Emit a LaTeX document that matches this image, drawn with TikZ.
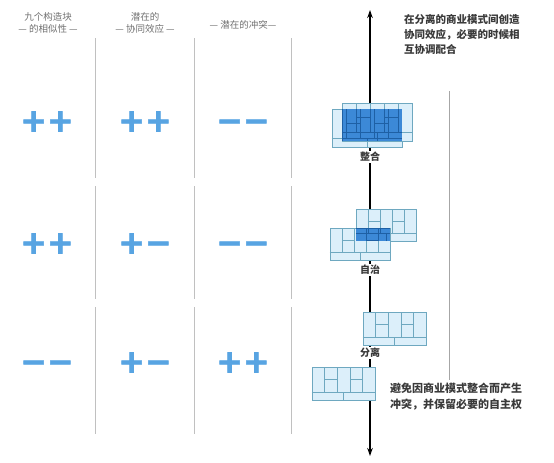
\documentclass[tikz,border=0pt]{standalone}
\usepackage{fontspec}
\setmainfont{Liberation Sans}
\newfontfamily\cjk{Noto Sans CJK SC}
\newfontfamily\signfont[FakeBold=2]{DejaVu Sans Bold}
\usepackage{xcolor}
\usepackage{tikz}
\usetikzlibrary{arrows.meta,positioning,calc}

\definecolor{signblue}{RGB}{88,164,226}
\definecolor{bmcfill}{RGB}{220,239,250}
\definecolor{bmcedge}{RGB}{110,168,192}
\definecolor{bmcdark}{RGB}{70,147,220}
\definecolor{headgray}{RGB}{112,112,112}
\definecolor{colgray}{RGB}{192,192,192}
\definecolor{txtdark}{RGB}{58,58,58}

\newcommand{\bmcgrid}[1]{%
\draw[bmcedge,line width=0.6pt] let \p1=(#1.south west),\p2=(#1.north east) in
  (\x1,{\y1+.24*(\y2-\y1)}) -- (\x2,{\y1+.24*(\y2-\y1)})
  ({\x1+.2*(\x2-\x1)},{\y1+.24*(\y2-\y1)}) -- ({\x1+.2*(\x2-\x1)},\y2)
  ({\x1+.4*(\x2-\x1)},{\y1+.24*(\y2-\y1)}) -- ({\x1+.4*(\x2-\x1)},\y2)
  ({\x1+.6*(\x2-\x1)},{\y1+.24*(\y2-\y1)}) -- ({\x1+.6*(\x2-\x1)},\y2)
  ({\x1+.8*(\x2-\x1)},{\y1+.24*(\y2-\y1)}) -- ({\x1+.8*(\x2-\x1)},\y2)
  ({\x1+.2*(\x2-\x1)},{\y1+.62*(\y2-\y1)}) -- ({\x1+.4*(\x2-\x1)},{\y1+.62*(\y2-\y1)})
  ({\x1+.6*(\x2-\x1)},{\y1+.62*(\y2-\y1)}) -- ({\x1+.8*(\x2-\x1)},{\y1+.62*(\y2-\y1)})
  ({\x1+.5*(\x2-\x1)},\y1) -- ({\x1+.5*(\x2-\x1)},{\y1+.24*(\y2-\y1)});
}

\begin{document}
\begin{tikzpicture}[x=1pt,y=-1pt,>={Stealth[length=8pt,width=5.5pt]},
  head/.style={align=center,inner sep=0pt,text=headgray,font=\fontsize{9.5}{11.5}\selectfont\cjk},
  sign/.style={anchor=base,inner sep=0pt,text=signblue,font=\fontsize{32}{32}\selectfont\signfont},
  bmc/.style={draw=bmcedge,fill=bmcfill,line width=0.6pt,inner sep=0pt},
  lbl/.style={fill=white,inner sep=1.5pt,text=txtdark,font=\fontsize{10}{12}\selectfont\cjk\bfseries},
  note/.style={align=left,inner sep=0pt,text=txtdark}]
\useasboundingbox (0,0) rectangle (554,463);
\foreach \cx in {95,194,291}
  \draw[colgray,line width=0.8pt] (\cx,38) -- (\cx,178) (\cx,186) -- (\cx,299) (\cx,307) -- (\cx,434);
\draw[gray!70,line width=0.7pt] (449,91) -- (449,380);

\coordinate (atop) at (370,10);
\coordinate (abot) at (370,456);
\draw[<->,line width=1.2pt] (abot) -- (atop);

\node[head] (h1) at (48,23) {九个构造块\\— 的相似性 —};
\node[head] (h2) at (145,23) {潜在的\\— 协同效应 —};
\node[head] (h3) at (243,25) {— 潜在的冲突—};

\node[sign] (s11) at (47,131.5) {++};
\node[sign] (s12) at (145,131.5) {++};
\node[sign] (s13) at (243,131.5) {−−};
\node[sign] (s21) at (47,253.5) {++};
\node[sign] (s22) at (145,253.5) {+−};
\node[sign] (s23) at (243,253.5) {−−};
\node[sign] (s31) at (47,372.5) {−−};
\node[sign] (s32) at (145,372.5) {+−};
\node[sign] (s33) at (243,372.5) {++};

\node[bmc,minimum width=70pt,minimum height=38pt] (zhB) at (367,128) {};
\node[bmc,minimum width=70pt,minimum height=38pt] (zhA) at (377,122) {};
\bmcgrid{zhB}
\bmcgrid{zhA}
\begin{scope}[blend mode=multiply]
\fill[bmcdark] (zhA.west |- zhB.north) rectangle (zhB.east |- zhA.south);
\end{scope}
\node[lbl] (zh) at (370,157) {整合};

\node[bmc,minimum width=60pt,minimum height=32pt] (zzA) at (386,225) {};
\node[bmc,minimum width=60pt,minimum height=32pt] (zzB) at (360,244) {};
\bmcgrid{zzA}
\bmcgrid{zzB}
\begin{scope}[blend mode=multiply]
\fill[bmcdark] (zzA.west |- zzB.north) rectangle (zzB.east |- zzA.south);
\end{scope}
\node[lbl] (zz) at (370,270) {自治};

\node[bmc,minimum width=63pt,minimum height=33pt] (flA) at (394.5,328.5) {};
\node[bmc,minimum width=63pt,minimum height=33pt] (flB) at (343.5,383.5) {};
\bmcgrid{flA}
\bmcgrid{flB}
\node[lbl] (fl) at (370,353) {分离};

\node[note,anchor=north west,font=\fontsize{10.5}{15}\selectfont\cjk\bfseries] (topnote) at (404,14)
  {在分离的商业模式间创造\\协同效应，必要的时候相\\互协调配合};
\node[note,anchor=north west,font=\fontsize{11}{16}\selectfont\cjk\bfseries] (botnote) at (390,383)
  {避免因商业模式整合而产生\\冲突，并保留必要的自主权};
\end{tikzpicture}
\end{document}
